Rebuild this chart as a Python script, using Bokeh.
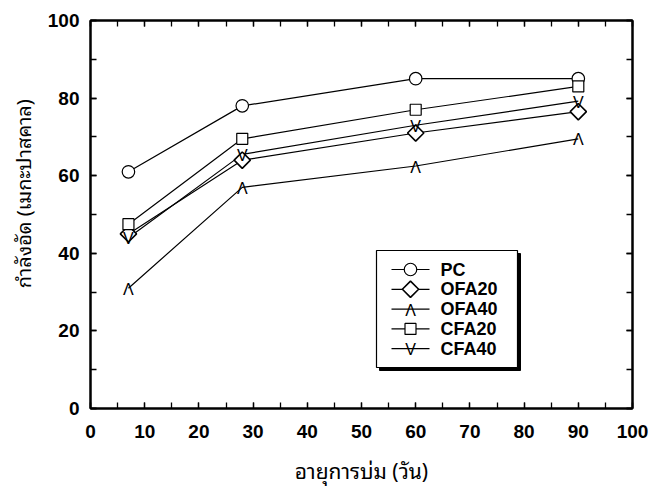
import math
from bokeh.plotting import figure
from bokeh.models import (LinearAxis, SingleIntervalTicker, CustomJSTickFormatter,
                          Range1d, ColumnDataSource)
from bokeh.core.properties import value
from bokeh.embed import file_html
from bokeh.resources import INLINE

# ---- data ----
days = [7, 28, 60, 90]
pc = [61, 78, 85, 85]
ofa20 = [45, 64, 71, 76.5]
ofa40 = [31, 57, 62.5, 69.5]
cfa20 = [47.5, 69.5, 77, 83]
cfa40 = [44, 65.5, 73, 79.2]
series_names = ["PC", "OFA20", "OFA40", "CFA20", "CFA40"]

x_label = "อายุการบ่ม (วัน)"
y_label = "กำลังอัด (เมกะปาสคาล)"
x_ticks_interval = 10
y_ticks_interval = 20

# ---- layout constants (pixels) ----
W, H = 655, 489
FL, FR, FT, FB = 90, 632, 20, 408          # frame edges in canvas pixels
X0, X1, Y0, Y1 = 0, 100, 0, 100

def dx(px):   # canvas pixel -> data x (for legend placement)
    return X0 + (px - FL) / (FR - FL) * (X1 - X0)

def dy(py):   # canvas pixel -> data y (for legend placement)
    return Y0 + (FB - py) / (FB - FT) * (Y1 - Y0)

TICK_FONT = "Liberation Sans, Arial, Helvetica, sans-serif"
THAI_FONT = "Noto Sans Thai Looped, Loma, Garuda, Noto Sans Thai, Noto Sans, DejaVu Sans, sans-serif"

p = figure(width=W, height=H, output_backend="svg", toolbar_location=None,
           x_range=Range1d(X0, X1), y_range=Range1d(Y0, Y1),
           min_border_left=FL, min_border_right=W - FR, min_border_top=FT,
           min_border_bottom=H - FB, x_axis_type=None, y_axis_type=None)
p.outline_line_color = "black"
p.outline_line_width = 2
p.background_fill_color = "white"
p.border_fill_color = "white"

def make_axis(ticker_interval, show_labels, standoff=11):
    ax = LinearAxis(ticker=SingleIntervalTicker(interval=ticker_interval, num_minor_ticks=2))
    ax.axis_line_width = 2
    ax.axis_line_color = "black"
    ax.major_tick_in = 6
    ax.major_tick_out = 0
    ax.minor_tick_in = 6
    ax.minor_tick_out = 0
    ax.major_tick_line_width = 1.3
    ax.minor_tick_line_width = 1.3
    ax.major_tick_line_color = "black"
    ax.minor_tick_line_color = "black"
    if show_labels:
        ax.major_label_text_font = TICK_FONT
        ax.major_label_text_font_style = "bold"
        ax.major_label_text_font_size = "19px"
        ax.major_label_text_color = "black"
        ax.major_label_standoff = standoff
    else:
        ax.formatter = CustomJSTickFormatter(code="return ''")
        ax.major_label_standoff = 0
        ax.major_label_text_font_size = "1px"
    return ax

xb = make_axis(x_ticks_interval, True, standoff=16)
xb.axis_label = x_label
xb.axis_label_text_font = THAI_FONT
xb.axis_label_text_font_style = "normal"
xb.axis_label_text_font_size = "21px"
xb.axis_label_text_color = "black"
xb.axis_label_standoff = 12
p.add_layout(xb, "below")

yl = make_axis(y_ticks_interval, True, standoff=11)
yl.axis_label = "\u00a0" * 8 + y_label
yl.axis_label_text_font = THAI_FONT
yl.axis_label_text_font_style = "normal"
yl.axis_label_text_font_size = "20px"
yl.axis_label_text_color = "black"
yl.axis_label_standoff = 7
p.add_layout(yl, "left")

p.add_layout(make_axis(x_ticks_interval, False), "above")
p.add_layout(make_axis(y_ticks_interval, False), "right")

p.xgrid.visible = False
p.ygrid.grid_line_color = "#3a3a3a"
p.ygrid.grid_line_width = 1.4

# ---- series ----
LW = 1.2
src = ColumnDataSource(dict(x=days, pc=pc, ofa20=ofa20, ofa40=ofa40, cfa20=cfa20, cfa40=cfa40,
                            up=["Λ"] * len(days), dn=["V"] * len(days)))

for key in ["pc", "ofa20", "ofa40", "cfa20", "cfa40"]:
    p.line("x", key, source=src, line_color="black", line_width=LW)

CIRCLE = dict(marker="circle", size=12.5, fill_color="white", line_color="black", line_width=1.2)
DIAMOND = dict(marker="square", size=11.5, angle=math.pi / 4, fill_color="white",
               line_color="black", line_width=1.6)
SQUARE = dict(marker="square", size=11, fill_color="white", line_color="black", line_width=1.2)
CARET = dict(text_font=value("Liberation Sans"), text_font_size="16px", text_align="center",
             text_baseline="middle", text_color="black", y_offset=1)

p.scatter("x", "pc", source=src, **CIRCLE)
p.scatter("x", "ofa20", source=src, **DIAMOND)
p.scatter("x", "cfa20", source=src, **SQUARE)
p.text("x", "ofa40", text="up", source=src, **CARET)
p.text("x", "cfa40", text="dn", source=src, **CARET)

# ---- legend (drawn as glyphs so that its symbols match the plot) ----
LG_LEFT, LG_TOP, LG_RIGHT, LG_BOTTOM = 376, 250, 517, 367
SH = 3
ITEM_Y0, ITEM_DY = 269, 19.8
GL_X0, GL_X1, LABEL_X = 391, 429, 440

p.quad(left=[dx(LG_LEFT + SH)], right=[dx(LG_RIGHT + SH)], top=[dy(LG_TOP + SH)],
       bottom=[dy(LG_BOTTOM + SH)], fill_color="black", line_color="black")
p.quad(left=[dx(LG_LEFT)], right=[dx(LG_RIGHT)], top=[dy(LG_TOP)], bottom=[dy(LG_BOTTOM)],
       fill_color="white", line_color="black", line_width=1.2)

ly = [dy(ITEM_Y0 + ITEM_DY * i) for i in range(len(series_names))]
gx = dx((GL_X0 + GL_X1) / 2)
p.segment(x0=[dx(GL_X0)] * len(ly), x1=[dx(GL_X1)] * len(ly), y0=ly, y1=ly,
          line_color="black", line_width=LW)
p.scatter(x=[gx], y=[ly[0]], **CIRCLE)
p.scatter(x=[gx], y=[ly[1]], **DIAMOND)
p.scatter(x=[gx], y=[ly[3]], **SQUARE)
p.text(x=[gx, gx], y=[ly[2], ly[4]], text=["Λ", "V"], **CARET)
p.text(x=[dx(LABEL_X)] * len(ly), y=ly, text=series_names, text_font=value("Liberation Sans"),
       text_font_style="bold", text_font_size="18px", text_align="left",
       text_baseline="middle", text_color="black")

open("out.html", "w").write(file_html(p, INLINE))
